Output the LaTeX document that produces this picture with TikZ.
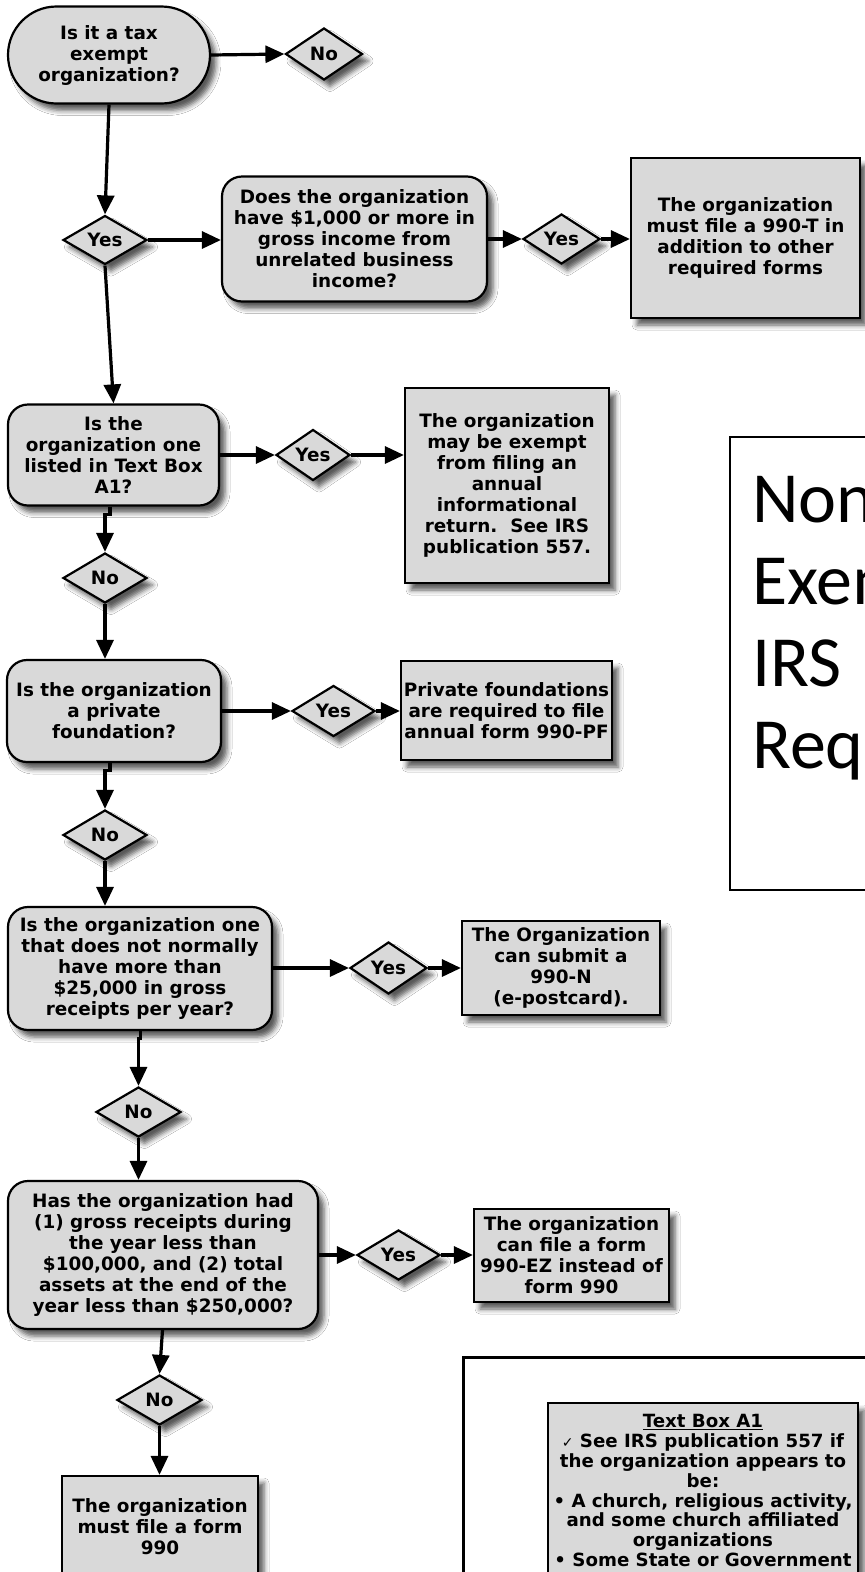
\documentclass[tikz,border=0pt]{standalone}
\usepackage{fontspec}
\usetikzlibrary{shapes.geometric,shapes.misc,arrows.meta,shadows.blur}
\newfontfamily\vfont{DejaVu Sans}
\newfontfamily\tfont{Carlito}
\definecolor{boxgray}{RGB}{217,217,217}
\tikzset{
 fbase/.style={draw=black, line width=2.2pt, fill=boxgray, inner sep=0pt, align=center,
   font=\vfont\bfseries\fontsize{18.4}{21}\selectfont,
   blur shadow={shadow xshift=6pt, shadow yshift=-7pt, shadow blur radius=5pt, shadow opacity=65}},
 qbox/.style={fbase, rectangle, rounded corners=20pt},
 rbox/.style={fbase, rectangle},
 sbox/.style={fbase, rounded rectangle},
 dbox/.style={fbase, diamond},
 conn/.style={line width=3.2pt, -{Triangle[length=19pt,width=17pt]}},
 ttl/.style={anchor=base west, inner sep=0pt, font=\tfont\fontsize{72}{72}\selectfont},
}
\begin{document}
\begin{tikzpicture}[x=1pt,y=-1pt]
\useasboundingbox (0,0) rectangle (865,1572);
\fill[white] (0,0) rectangle (865,1572);
\clip (0,0) rectangle (865,1572);

% title box
\node[draw=black, line width=1.3pt, minimum width=150pt, minimum height=453pt, inner sep=0pt] (tb) at (805,663.5) {};
\node[ttl] (t1) at (752,522) {Non};
\node[ttl] (t2) at (752,604) {Exem};
\node[ttl] (t3) at (752,686) {IRS};
\node[ttl] (t4) at (752,768) {Req};

% row 1
\node[sbox, minimum width=202pt, minimum height=97pt] (A) at (109,55) {Is it a tax\\exempt\\organization?};
\node[dbox, minimum width=77pt, minimum height=52pt] (N0) at (324,54) {No};

% row 2
\node[dbox, minimum width=84pt, minimum height=49pt] (Y1) at (105,240) {Yes};
\node[qbox, minimum width=265pt, minimum height=125pt] (B2) at (354.5,239) {Does the organization\\have \$1,000 or more in\\gross income from\\unrelated business\\income?};
\node[dbox, minimum width=77pt, minimum height=50pt] (Y2) at (561.5,239) {Yes};
\node[rbox, minimum width=229pt, minimum height=160pt] (R2) at (745.5,238) {The organization\\must file a 990-T in\\addition to other\\required forms};

% row 3
\node[qbox, minimum width=211pt, minimum height=101pt] (B3) at (113.5,455) {Is the\\organization one\\listed in Text Box\\A1?};
\node[dbox, minimum width=74pt, minimum height=51pt] (Y3) at (313,455) {Yes};
\node[rbox, minimum width=204pt, minimum height=195pt] (R3) at (507,485.5) {The organization\\may be exempt\\from filing an\\annual\\informational\\return.\ \ See IRS\\publication 557.};
\node[dbox, minimum width=84pt, minimum height=50pt] (N1) at (105,578) {No};

% row 4
\node[qbox, minimum width=214pt, minimum height=102pt] (B4) at (114,711) {Is the organization\\a private\\foundation?};
\node[dbox, minimum width=83pt, minimum height=51pt] (Y4) at (333.5,711) {Yes};
\node[rbox, minimum width=211pt, minimum height=99pt] (R4) at (506.5,710.5) {Private foundations\\are required to file\\annual form 990-PF};
\node[dbox, minimum width=84pt, minimum height=50pt] (N2) at (105,835) {No};

% row 5
\node[qbox, minimum width=264pt, minimum height=123pt] (B5) at (140,968.5) {Is the organization one\\that does not normally\\have more than\\\$25,000 in gross\\receipts per year?};
\node[dbox, minimum width=77pt, minimum height=52pt] (Y5) at (388.5,968) {Yes};
\node[rbox, minimum width=198pt, minimum height=94pt] (R5) at (561,968) {The Organization\\can submit a\\990-N\\(e-postcard).};
\node[dbox, minimum width=85pt, minimum height=50pt] (N3) at (138.5,1112) {No};

% row 6
\node[qbox, minimum width=310pt, minimum height=148pt] (B6) at (163,1255) {Has the organization had\\(1) gross receipts during\\the year less than\\\$100,000, and (2) total\\assets at the end of the\\year less than \$250,000?};
\node[dbox, minimum width=83pt, minimum height=50pt] (Y6) at (398.5,1255) {Yes};
\node[rbox, minimum width=195pt, minimum height=93pt] (R6) at (571.5,1255.5) {The organization\\can file a form\\990-EZ instead of\\form 990};
\node[dbox, minimum width=85pt, minimum height=50pt] (N4) at (159.5,1400) {No};
\node[rbox, minimum width=196pt, minimum height=102pt] (R7) at (160,1527) {The organization\\must file a form\\990};

% Text box A1
\node[draw=black, line width=3pt, fill=white, minimum width=420pt, minimum height=240pt, inner sep=0pt] (outer) at (673,1477) {};
\node[rbox, minimum width=310pt, minimum height=220pt] (A1box) at (703,1513) {};
\node[anchor=north, align=center, inner sep=0pt, font=\vfont\bfseries\fontsize{18.2}{19.8}\selectfont] (A1t) at (703,1414.5)
 {\underline{Text Box A1}\\{\vfont\mdseries\fontsize{14}{14}\selectfont ✓} See IRS publication 557 if\\the organization appears to\\be:\\• A church, religious activity,\\and some church affiliated\\organizations\\• Some State or Government};

% connectors
\draw[conn] (A.east) -- (N0.west);
\draw[conn] (A.south) -- (Y1.north);
\draw[conn] (Y1.east) -- (Y1.east -| B2.west);
\draw[conn] (B2.east |- Y2.west) -- (Y2.west);
\draw[conn] (Y2.east) -- (Y2.east -| R2.west);
\draw[conn] (Y1.south) -- (B3.north);
\draw[conn] (B3.east) -- (Y3.west);
\draw[conn] (Y3.east) -- (Y3.east -| R3.west);
\draw[conn] ([xshift=5pt]N1.north |- B3.south) -- ++(0,8) -| (N1.north);
\draw[conn] (N1.south) -- (B4.north -| N1.south);
\draw[conn] (B4.east) -- (Y4.west);
\draw[conn] (Y4.east) -- (Y4.east -| R4.west);
\draw[conn] ([xshift=5pt]N2.north |- B4.south) -- ++(0,7) -| (N2.north);
\draw[conn] (N2.south) -- (B5.north -| N2.south);
\draw[conn] (B5.east |- Y5.west) -- (Y5.west);
\draw[conn] (Y5.east) -- (Y5.east -| R5.west);
\draw[conn] ([xshift=2pt]N3.north |- B5.south) -- ++(0,7) -| (N3.north);
\draw[conn] (N3.south) -- (B6.north -| N3.south);
\draw[conn] (B6.east) -- (Y6.west);
\draw[conn] (Y6.east) -- (Y6.east -| R6.west);
\draw[conn] ([xshift=3pt]N4.north |- B6.south) -- (N4.north);
\draw[conn] (N4.south) -- (R7.north -| N4.south);
\end{tikzpicture}
\end{document}
